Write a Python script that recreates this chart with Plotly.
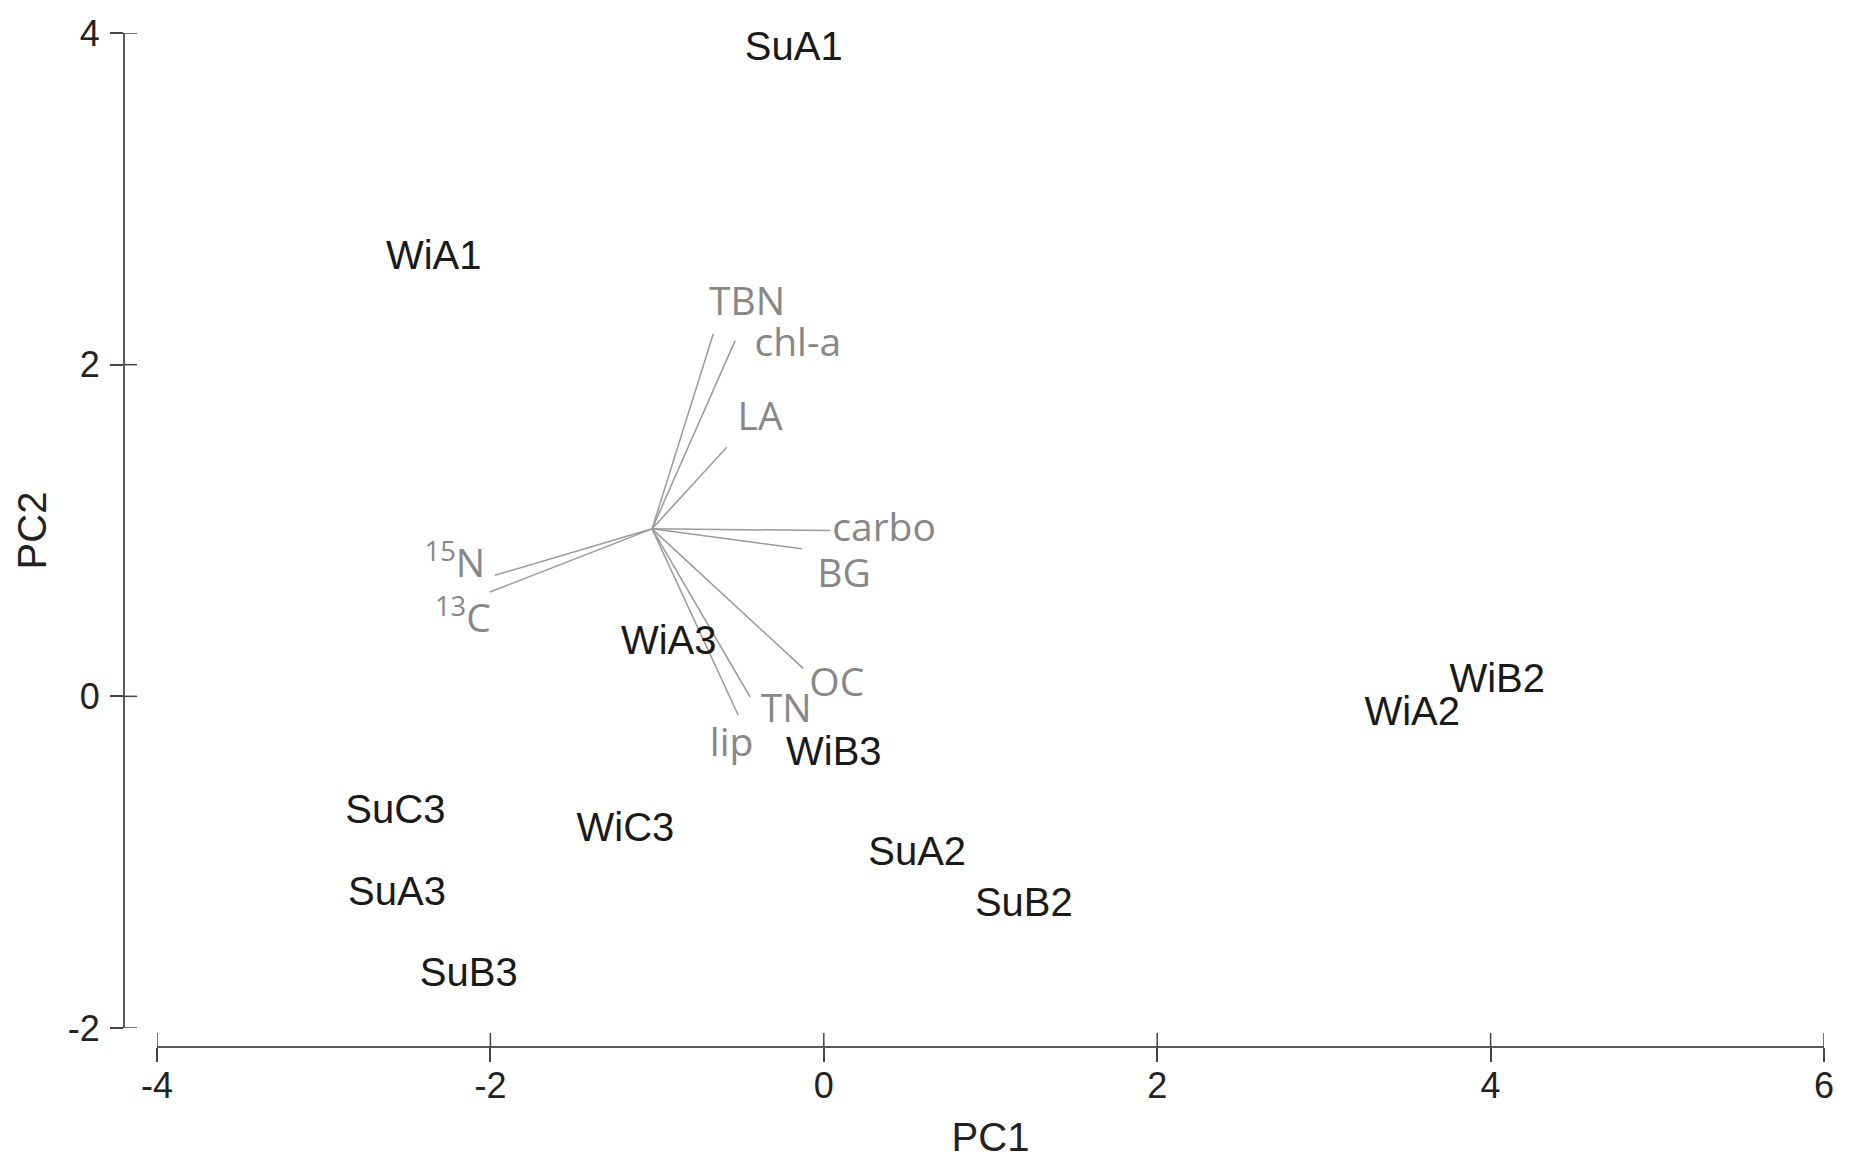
import plotly.graph_objects as go

# Sample scores (PC1, PC2)
samples = ["SuA1", "WiA1", "WiA3", "WiB3", "SuC3", "WiC3", "SuA2", "SuA3", "SuB2", "SuB3", "WiB2", "WiA2"]
pc1 = [-0.18, -2.34, -0.93, 0.06, -2.57, -1.19, 0.56, -2.56, 1.20, -2.13, 4.04, 3.53]
pc2 = [3.90, 2.635, 0.315, -0.355, -0.705, -0.815, -0.955, -1.195, -1.265, -1.685, 0.085, -0.115]

# Loading vectors (origin + endpoints) and their labels
vec_origin = (-1.03, 1.01)
variables = ["TBN", "chl-a", "LA", "carbo", "BG", "<sup>15</sup>N", "<sup>13</sup>C", "OC", "TN", "lip"]
vec_x = [-0.663, -0.532, -0.582, 0.038, -0.132, -1.973, -2.003, -0.122, -0.442, -0.513]
vec_y = [2.186, 2.145, 1.502, 1.000, 0.890, 0.730, 0.629, 0.167, -0.004, -0.114]
lab_x = [-0.46, -0.156, -0.382, 0.362, 0.121, -2.213, -2.165, 0.078, -0.226, -0.553]
lab_y = [2.361, 2.111, 1.662, 0.994, 0.717, 0.778, 0.444, 0.060, -0.097, -0.301]

x_ticks = [-4, -2, 0, 2, 4, 6]
x_ticktext = ["-4", "-2", "0", "2", "4", "6"]
y_ticks = [-2, 0, 2, 4]
y_ticktext = ["-2", "0", "2", "4"]

lx, ly = [], []
for ex, ey in zip(vec_x, vec_y):
    lx += [vec_origin[0], ex, None]
    ly += [vec_origin[1], ey, None]

fig = go.Figure()
fig.add_trace(go.Scatter(x=lx, y=ly, mode="lines",
                         line=dict(color="#9a9a9a", width=1.5),
                         hoverinfo="skip", showlegend=False))
fig.add_trace(go.Scatter(x=lab_x, y=lab_y, mode="text", text=variables,
                         textposition="middle center",
                         textfont=dict(family="Open Sans, sans-serif", size=39, color="#878787"),
                         cliponaxis=False, showlegend=False))
fig.add_trace(go.Scatter(x=pc1, y=pc2, mode="text", text=samples,
                         textposition="middle center",
                         textfont=dict(family="Arial, Liberation Sans, sans-serif", size=40, color="#1a1a1a"),
                         cliponaxis=False, showlegend=False))

# page has an 8px body margin; size figure so it ends exactly at the window edge
W, H = 1845, 1151
ml, mr, mt, mb = 116, 29, 25, 112
xdom0 = 33 / (W - ml - mr)
ydom0 = 19 / (H - mt - mb)

tick_font = dict(family="Arial, Liberation Sans, sans-serif", size=36, color="#222222")
title_font = dict(family="Arial, Liberation Sans, sans-serif", size=40, color="#222222")
common = dict(showgrid=False, zeroline=False, linecolor="#5a5a5a", linewidth=2,
              tickcolor="#444444", tickwidth=1.5, showline=True, ticks="outside",
              automargin=False)

fig.update_layout(
    width=W, height=H,
    margin=dict(l=ml, r=mr, t=mt, b=mb, autoexpand=False),
    plot_bgcolor="white", paper_bgcolor="white",
    xaxis=dict(range=[-4, 6], domain=[xdom0, 1], anchor="free", position=0,
               tickvals=x_ticks, ticktext=x_ticktext, ticklen=14,
               tickfont=tick_font, ticklabelstandoff=-7,
               title=dict(text="PC1", font=title_font, standoff=18), **common),
    yaxis=dict(range=[-2, 4], domain=[ydom0, 1], anchor="free", position=0,
               tickvals=y_ticks, ticktext=y_ticktext, ticklen=13,
               tickfont=tick_font, ticklabelstandoff=3,
               title=dict(text="PC2", font=title_font, standoff=8), **common),
)

# inner half of the crossing tick marks
shapes = []
for t in x_ticks:
    shapes.append(dict(type="line", xref="x", yref="paper", ysizemode="pixel", yanchor=0,
                       x0=t, x1=t, y0=0, y1=14, line=dict(color="#444444", width=1.5)))
for t in y_ticks:
    shapes.append(dict(type="line", xref="paper", yref="y", xsizemode="pixel", xanchor=0,
                       x0=0, x1=13, y0=t, y1=t, line=dict(color="#444444", width=1.5)))
fig.update_layout(shapes=shapes)

fig.write_html("out.html")
